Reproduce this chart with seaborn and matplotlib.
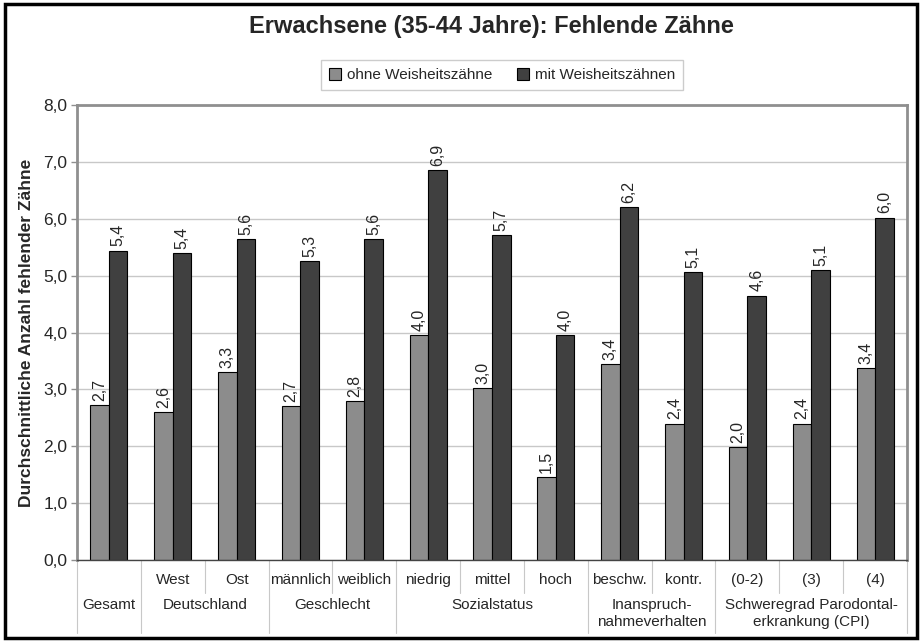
"""
Erwachsene (35-44 Jahre): fehlende Zähne, gruppierte Balken mit Tabellenbeschriftung.
"""
import matplotlib
matplotlib.use('Agg')
import matplotlib.pyplot as plt
import matplotlib.transforms as mtransforms
from matplotlib.patches import Rectangle
import pandas as pd
import seaborn as sns

# --- data ---
categories = ["Gesamt", "West", "Ost", "männlich", "weiblich", "niedrig", "mittel",
              "hoch", "beschw.", "kontr.", "(0-2)", "(3)", "(4)"]
sub_labels = ["", "West", "Ost", "männlich", "weiblich", "niedrig", "mittel",
              "hoch", "beschw.", "kontr.", "(0-2)", "(3)", "(4)"]
groups = ["Gesamt", "Deutschland", "Geschlecht", "Sozialstatus",
          "Inanspruch-\nnahmeverhalten", "Schweregrad Parodontal-\nerkrankung (CPI)"]
group_sizes = [1, 2, 2, 3, 2, 3]
series = ["ohne Weisheitszähne", "mit Weisheitszähnen"]
ohne = [2.73, 2.60, 3.30, 2.70, 2.80, 3.95, 3.02, 1.46, 3.44, 2.40, 1.98, 2.40, 3.37]
mit = [5.44, 5.39, 5.65, 5.25, 5.65, 6.85, 5.72, 3.96, 6.21, 5.07, 4.65, 5.10, 6.02]
ohne_labels = ["2,7", "2,6", "3,3", "2,7", "2,8", "4,0", "3,0", "1,5", "3,4", "2,4", "2,0", "2,4", "3,4"]
mit_labels = ["5,4", "5,4", "5,6", "5,3", "5,6", "6,9", "5,7", "4,0", "6,2", "5,1", "4,6", "5,1", "6,0"]
y_ticks = [0, 1, 2, 3, 4, 5, 6, 7, 8]

title = "Erwachsene (35-44 Jahre): Fehlende Zähne"
y_label = "Durchschnittliche Anzahl fehlender Zähne"

df = pd.DataFrame({
    "Kategorie": categories * 2,
    "Serie": [series[0]] * len(categories) + [series[1]] * len(categories),
    "Wert": ohne + mit,
})

sns.set_theme(style="white")
plt.rcParams['font.family'] = ['Liberation Sans', 'DejaVu Sans']

fig, ax = plt.subplots(figsize=(9.21, 6.42), dpi=100)
fig.subplots_adjust(left=0.0836, right=0.9848, top=0.8364, bottom=0.1277)

sns.barplot(
    data=df, x="Kategorie", y="Wert", hue="Serie",
    order=categories, hue_order=series,
    palette=["#8c8c8c", "#404040"], saturation=1,
    width=0.58, edgecolor="black", linewidth=0.8,
    errorbar=None, ax=ax,
)

for container, labels in zip(ax.containers, [ohne_labels, mit_labels]):
    ax.bar_label(container, labels=labels, rotation=90, padding=3, fontsize=11.5)

# y axis
ax.set_yticks(y_ticks)
ax.set_yticklabels([f"{t:.1f}".replace(".", ",") for t in y_ticks], fontsize=12.5)
ax.yaxis.grid(True, color="#c8c8c8", linewidth=1)
ax.set_axisbelow(True)
ax.set_ylabel(y_label, fontsize=12.5, fontweight="bold")
ax.yaxis.set_label_coords(-0.052, 0.5)
ax.tick_params(axis="y", left=True, length=4, width=1, color="#8f8f8f", pad=3)

# x axis: table-like labels below
ax.set_xticks(range(len(categories)))
ax.set_xticklabels([])
ax.tick_params(axis="x", length=0)
ax.set_xlabel("")

for side in ["top", "left", "right"]:
    ax.spines[side].set_color("#8f8f8f")
    ax.spines[side].set_linewidth(2)
ax.spines["bottom"].set_color("#444444")
ax.spines["bottom"].set_linewidth(1)

trans = mtransforms.blended_transform_factory(ax.transData, ax.transAxes)
for i, lbl in enumerate(sub_labels):
    ax.text(i, -0.044, lbl, ha="center", va="center", fontsize=11, transform=trans)

start = 0
group_edges = {-0.5}
for name, size in zip(groups, group_sizes):
    center = start + (size - 1) / 2
    ax.text(center, -0.084, name, ha="center", va="top", fontsize=11,
            linespacing=1.25, transform=trans)
    start += size
    group_edges.add(start - 0.5)

for k in range(len(categories) + 1):
    b = k - 0.5
    low = -0.16 if b in group_edges else -0.073
    ax.plot([b, b], [0, low], transform=trans, clip_on=False,
            color="#c8c8c8", linewidth=0.8)

# keep the category axis tight after the separator lines
ax.set_xlim(-0.5, len(categories) - 0.5)
ax.set_ylim(0, 8)

# legend
leg = ax.legend(
    loc="center", bbox_to_anchor=(0.545, 1 - 75 / 642), bbox_transform=fig.transFigure,
    ncol=2, frameon=True, fancybox=False, edgecolor="#c0c0c0", fontsize=11,
    handlelength=0.8, handleheight=0.8, handletextpad=0.4, columnspacing=1.6,
    borderpad=0.5,
)
leg.get_frame().set_linewidth(1)

fig.text(0.534, 1 - 27 / 642, title, ha="center", va="center",
         fontsize=17, fontweight="bold")

# outer frame
fig.patches.append(Rectangle((5 / 921, 4 / 642), 912 / 921, 634 / 642,
                             transform=fig.transFigure, fill=False,
                             edgecolor="black", linewidth=2.5))

fig.savefig("out.png", dpi=100)
plt.close(fig)
